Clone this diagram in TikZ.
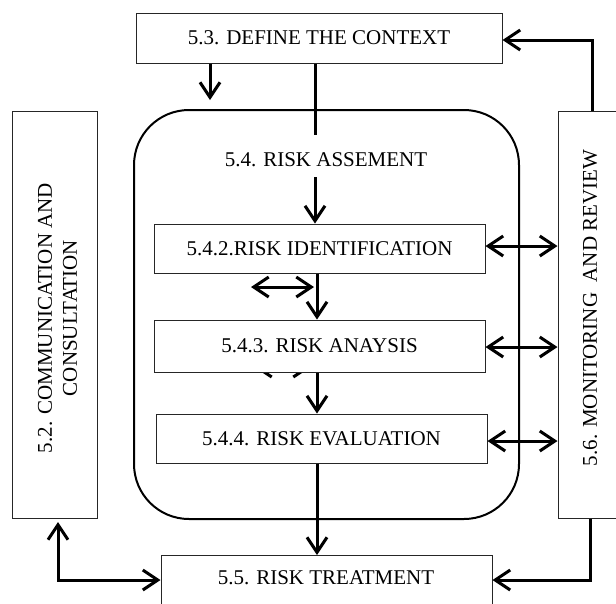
\documentclass[tikz,border=0pt]{standalone}
\usepackage{fontspec}
\setmainfont{Liberation Serif}
\usetikzlibrary{arrows.meta}
\begin{document}
\begin{tikzpicture}[x=1pt,y=-1pt,
  box/.style={draw=black!85, line width=1pt, fill=white, inner sep=0pt, font=\fontsize{21}{25}\selectfont},
  lbl/.style={inner sep=0pt, font=\fontsize{21}{25}\selectfont},
  conn/.style={line width=3pt},
  arr/.style={conn, -{Straight Barb[length=15pt,width=20pt]}},
  darr/.style={conn, {Straight Barb[length=15pt,width=20pt]}-{Straight Barb[length=15pt,width=20pt]}},
]
\useasboundingbox (0,0) rectangle (616,603);
\clip (0,0) rectangle (616,603);
\fill[white] (0,0) rectangle (616,603);

% outer frames
\node[draw=black, line width=2pt, rounded corners=55pt, minimum width=385pt, minimum height=409pt, inner sep=0pt] (assess) at (326.5,314.5) {};
\node[box, minimum width=85pt, minimum height=407pt] (comm) at (54.5,314.5) {};
\node[lbl, rotate=90, align=center] (commtext) at (57.5,318) {5.2. COMMUNICATION AND\\CONSULTATION};
\node[box, minimum width=92pt, minimum height=407pt] (mon) at (604,314.5) {};
\node[lbl, rotate=90] (montext) at (590,308) {5.6. MONITORING\ \ AND REVIEW};

% hidden double arrow (only its lower barbs show)
\coordinate (ha) at (254,367);
\coordinate (hb) at (311,367);
\draw[darr] (ha) -- (hb);

% boxes
\node[box, minimum width=366pt, minimum height=50pt] (ctx) at (319,38) {5.3. DEFINE THE CONTEXT};
\node[lbl] (assesstext) at (326,160) {5.4. RISK ASSEMENT};
\node[box, minimum width=331pt, minimum height=49pt] (ident) at (319.5,248.5) {5.4.2.RISK IDENTIFICATION};
\node[box, minimum width=331pt, minimum height=52pt] (ana) at (319.5,346) {5.4.3. RISK ANAYSIS};
\node[box, minimum width=331pt, minimum height=49pt] (eval) at (321.5,438.5) {5.4.4. RISK EVALUATION};
\node[box, anchor=north, minimum width=331pt, minimum height=100pt] (treat) at (326.5,555) {};
\node[lbl] (treattext) at (326,578) {5.5. RISK TREATMENT};

% connectors
\coordinate (c1) at (210,100);
\draw[arr] (ctx.south -| c1) -- (c1);
\coordinate (c2) at (315,135);
\draw[conn] (ctx.south -| c2) -- (c2);
\coordinate (c3) at (315,177);
\draw[arr] (c3) -- (ident.north -| c3);
\coordinate (vx) at (317,0);
\draw[arr] (ident.south -| vx) -- (ana.north -| vx);
\coordinate (sa) at (251,287);
\coordinate (sb) at (314,287);
\draw[darr] (sa) -- (sb);
\draw[arr] (ana.south -| vx) -- (eval.north -| vx);
\draw[arr] (eval.south -| vx) -- (treat.north -| vx);

\coordinate (y1) at (0,246);
\coordinate (y2) at (0,347);
\coordinate (y3) at (0,441);
\draw[darr] (ident.east |- y1) -- (mon.west |- y1);
\draw[darr] (ana.east |- y2) -- (mon.west |- y2);
\draw[darr] (eval.east |- y3) -- (mon.west |- y3);

\coordinate (ty) at (0,580);
\coordinate (lu) at (58,522);
\draw[darr] (lu) |- (treat.west |- ty);
\coordinate (rb) at (590,0);
\draw[arr] (mon.south -| rb) |- (treat.east |- ty);
\coordinate (rt) at (592,0);
\coordinate (cy) at (0,40);
\draw[arr] (mon.north -| rt) |- (ctx.east |- cy);
\end{tikzpicture}
\end{document}
